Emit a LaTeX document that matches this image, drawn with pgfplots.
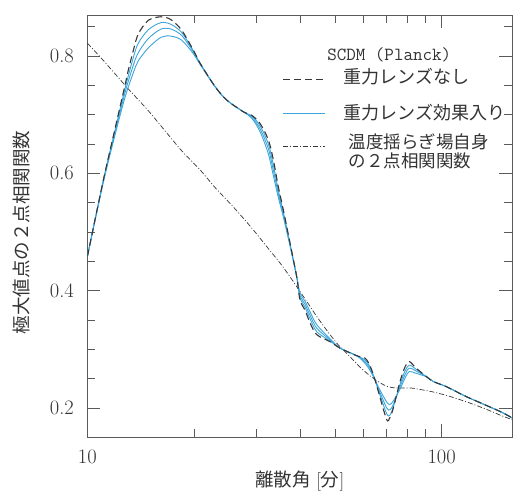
\documentclass[border=0pt]{standalone}
\usepackage{pgfplots}
\pgfplotsset{compat=1.18}
\usepackage{fontspec}
\newfontfamily\jp{Noto Sans CJK JP}
\definecolor{lensblue}{RGB}{60,165,218}
\definecolor{dgray}{RGB}{55,55,55}
\definecolor{axgray}{RGB}{90,90,90}
\begin{document}
\begin{tikzpicture}
\useasboundingbox (-87.3pt,-54pt) rectangle (425.4pt,437pt);
\begin{axis}[
  scale only axis, width=424.4pt, height=422pt,
  xmode=log, xmin=10, xmax=158, ymin=0.15, ymax=0.87,
  xtick={10,100}, xticklabels={10,100},
  minor xtick={20,30,40,50,60,70,80,90},
  ytick={0.2,0.4,0.6,0.8}, yticklabels={0.2,0.4,0.6,0.8},
  minor ytick={0.25,0.3,0.35,0.45,0.5,0.55,0.65,0.7,0.75,0.85},
  tick label style={font=\fontsize{20.5}{23}\selectfont, text=black!80},
  xticklabel style={yshift=-9pt},
  yticklabel style={xshift=-10pt},
  major tick length=13pt, minor tick length=8pt,
  axis line style={axgray, line width=0.8pt},
  every tick/.style={axgray, line width=0.7pt},
  xlabel={{\jp 離散角} [{\jp 分}]},
  ylabel={\jp 極大値点の２点相関関数},
  label style={font=\fontsize{18.5}{20}\selectfont, text=black!80},
  xlabel style={at={(axis description cs:0.5,-0.104)}, anchor=center},
  ylabel style={at={(axis description cs:-0.154,0.485)}, anchor=center},
  clip=true,
]
% dash-dot: temperature field 2-point correlation
\addplot[dgray, line width=0.7pt, dash pattern=on 5pt off 2pt on 1pt off 2pt, smooth] coordinates {
(10,0.822) (11,0.795) (12,0.769) (13,0.745) (14,0.724) (15,0.704) (16.7,0.670)
(18.5,0.638) (20.8,0.606) (23,0.575) (25.8,0.543) (29,0.508) (32.1,0.475)
(35,0.447) (37.3,0.424) (39.8,0.399) (42,0.378) (44.4,0.356) (48,0.328)
(51,0.308) (55,0.288) (59,0.269) (63,0.254) (67,0.243) (70,0.237) (74,0.234)
(78,0.234) (82,0.234) (86,0.232) (95,0.227) (105,0.220) (118,0.210)
(132,0.199) (146,0.188) (158,0.180)};
% lensed (three curves)
\addplot[lensblue, line width=0.9pt, smooth] coordinates {
(10,0.458) (11.10,0.589) (12.00,0.676) (12.78,0.745) (13.49,0.798) (13.93,0.822)
(14.87,0.845) (16.14,0.857) (17.23,0.854) (18.47,0.840) (19.92,0.809) (20.80,0.788)
(22.93,0.748) (24.74,0.725) (27.56,0.705) (29.11,0.698) (30.73,0.681) (32.43,0.650)
(33.50,0.614) (34.60,0.571) (35.74,0.534) (37.34,0.480) (38.99,0.424) (39.83,0.388)
(41.15,0.372) (42.52,0.352) (44.41,0.330) (48.42,0.314) (51.66,0.302) (57.60,0.289)
(60.78,0.282) (62.79,0.270) (64.85,0.248) (66.5,0.228) (69.98,0.190) (71.50,0.188)
(73.07,0.202) (76.31,0.240) (78.84,0.263) (81.07,0.273) (84.67,0.266) (90.78,0.253)
(94.76,0.245) (103.4,0.236) (117.7,0.219) (146.2,0.194) (158,0.183)};
\addplot[lensblue, line width=0.9pt, smooth] coordinates {
(10,0.458) (11.10,0.588) (12.00,0.672) (12.78,0.738) (13.49,0.785) (13.93,0.806)
(14.87,0.830) (16.14,0.846) (17.23,0.846) (18.47,0.835) (19.92,0.807) (20.80,0.787)
(22.93,0.748) (24.74,0.725) (27.56,0.705) (29.11,0.696) (30.73,0.676) (32.43,0.642)
(33.50,0.605) (34.60,0.565) (35.74,0.530) (37.34,0.478) (38.99,0.424) (39.83,0.392)
(41.15,0.377) (42.52,0.358) (44.41,0.336) (48.42,0.316) (51.66,0.302) (57.60,0.289)
(60.78,0.279) (62.79,0.267) (64.85,0.248) (66.5,0.231) (69.98,0.200) (71.50,0.197)
(73.07,0.206) (76.31,0.236) (78.84,0.257) (81.07,0.268) (84.67,0.263) (90.78,0.253)
(94.76,0.245) (103.4,0.236) (117.7,0.219) (146.2,0.194) (158,0.183)};
\addplot[lensblue, line width=0.9pt, smooth] coordinates {
(10,0.458) (11.10,0.585) (12.00,0.668) (12.78,0.730) (13.49,0.772) (13.93,0.792)
(14.87,0.814) (16.14,0.832) (17.23,0.834) (18.47,0.827) (19.92,0.804) (20.80,0.786)
(22.93,0.748) (24.74,0.725) (27.56,0.705) (29.11,0.694) (30.73,0.671) (32.43,0.633)
(33.50,0.596) (34.60,0.559) (35.74,0.526) (37.34,0.476) (38.99,0.424) (39.83,0.396)
(41.15,0.382) (42.52,0.364) (44.41,0.342) (48.42,0.318) (51.66,0.302) (57.60,0.289)
(60.78,0.276) (62.79,0.264) (64.85,0.248) (66.5,0.234) (69.98,0.210) (71.50,0.206)
(73.07,0.212) (76.31,0.232) (78.84,0.251) (81.07,0.262) (84.67,0.259) (90.78,0.253)
(94.76,0.245) (103.4,0.236) (117.7,0.219) (146.2,0.194) (158,0.183)};
% unlensed (dashed)
\addplot[dgray, line width=1.1pt, dash pattern=on 7pt off 4pt, smooth] coordinates {
(10,0.458) (11.10,0.589) (12.00,0.679) (12.78,0.751) (13.05,0.776) (13.49,0.810)
(13.93,0.838) (14.87,0.861) (16.14,0.867) (17.23,0.862) (18.47,0.844) (19.92,0.810)
(20.80,0.788) (22.93,0.748) (24.74,0.725) (27.56,0.705) (29.11,0.699) (30.73,0.685)
(32.43,0.657) (33.50,0.623) (34.60,0.577) (35.74,0.538) (37.34,0.481) (38.99,0.424)
(39.83,0.384) (41.15,0.367) (42.52,0.345) (44.41,0.325) (48.42,0.313) (51.66,0.302)
(57.60,0.289) (60.78,0.285) (62.79,0.272) (64.85,0.248) (66.5,0.225) (69.98,0.180)
(71.50,0.184) (73.07,0.200) (76.31,0.245) (78.84,0.270) (81.07,0.279) (84.67,0.268)
(90.78,0.253) (94.76,0.245) (103.4,0.236) (117.7,0.219) (146.2,0.194) (158,0.183)};
% legend
\node[font=\ttfamily\fontsize{18.5}{20}\selectfont, text=black!80] at (rel axis cs:0.711,0.905) {SCDM (Planck)};
\draw[dgray, line width=1.1pt, dash pattern=on 7pt off 4pt] (rel axis cs:0.461,0.848) -- (rel axis cs:0.560,0.848);
\node[anchor=west, font=\jp\fontsize{18}{20}\selectfont, text=black!80] at (rel axis cs:0.595,0.855) {重力レンズなし};
\draw[lensblue, line width=0.9pt] (rel axis cs:0.461,0.768) -- (rel axis cs:0.560,0.768);
\node[anchor=west, font=\jp\fontsize{18}{20}\selectfont, text=black!80] at (rel axis cs:0.595,0.770) {重力レンズ効果入り};
\draw[dgray, line width=0.7pt, dash pattern=on 5pt off 2pt on 1pt off 2pt] (rel axis cs:0.461,0.690) -- (rel axis cs:0.560,0.690);
\node[anchor=west, align=left, font=\jp\fontsize{17.5}{19}\selectfont, text=black!80] at (rel axis cs:0.607,0.678) {温度揺らぎ場自身\\の２点相関関数};
\end{axis}
\end{tikzpicture}
\end{document}
